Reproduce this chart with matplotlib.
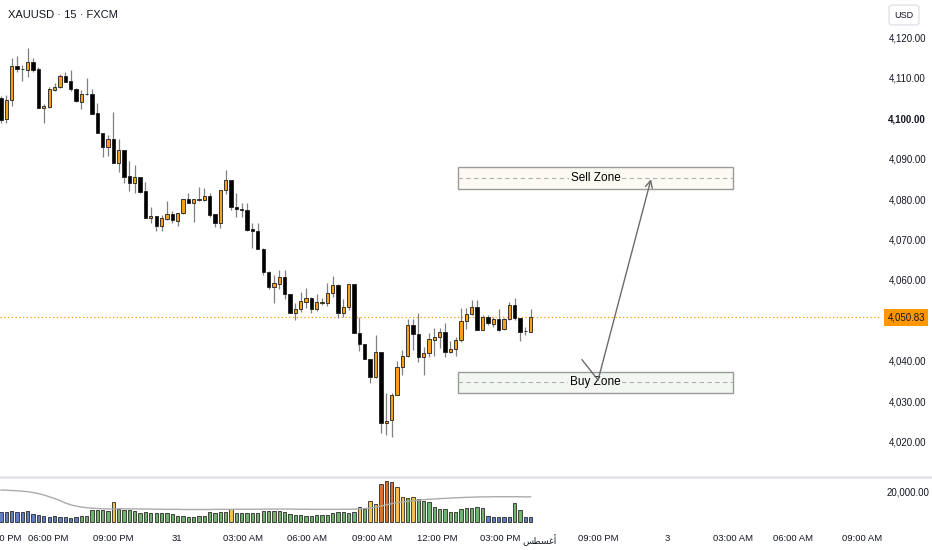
import matplotlib
matplotlib.use("Agg")
import matplotlib.pyplot as plt
import matplotlib.transforms as mtransforms
from matplotlib.lines import Line2D
from matplotlib.patches import Rectangle

# XAUUSD 15m candles
opens = [4104.9, 4099.8, 4104.4, 4112.8, 4112.1, 4111.9, 4113.8, 4112.1, 4102.5, 4102.7,
         4106.9, 4107.7, 4110.4, 4109.1, 4107.2, 4104.0, 4105.9, 4105.9, 4101.2, 4096.3,
         4092.8, 4094.8, 4088.9, 4092.1, 4085.7, 4084.0, 4085.4, 4082.0, 4075.3, 4075.8,
         4073.3, 4075.1, 4076.3, 4074.6, 4076.5, 4080.0, 4079.0, 4079.7, 4079.8, 4080.7,
         4076.3, 4074.1, 4082.2, 4084.7, 4078.0, 4077.5, 4077.3, 4072.6, 4072.1, 4067.7,
         4062.0, 4058.3, 4059.0, 4060.7, 4056.5, 4051.9, 4052.8, 4054.6, 4055.6, 4052.8,
         4054.3, 4054.3, 4056.8, 4058.8, 4051.9, 4053.3, 4059.0, 4046.9, 4044.2, 4040.5,
         4036.1, 4042.2, 4024.7, 4025.4, 4031.6, 4038.5, 4041.2, 4048.9, 4046.7, 4041.0,
         4042.0, 4045.2, 4045.9, 4047.2, 4042.2, 4043.0, 4045.2, 4049.9, 4051.6, 4053.3,
         4047.7, 4050.9, 4049.1, 4050.4, 4047.9, 4050.4, 4053.8, 4050.6, 4047.3, 4047.2]
highs = [4105.4, 4105.7, 4114.8, 4115.3, 4113.1, 4117.3, 4114.8, 4112.6, 4103.5, 4107.7,
         4108.6, 4110.9, 4111.4, 4111.9, 4107.3, 4106.9, 4109.9, 4107.2, 4103.7, 4096.4,
         4095.8, 4101.5, 4094.8, 4092.2, 4089.4, 4088.4, 4085.5, 4084.2, 4078.0, 4075.9,
         4076.1, 4079.5, 4077.0, 4076.6, 4080.1, 4081.5, 4080.1, 4083.0, 4082.7, 4081.5,
         4076.4, 4082.3, 4087.2, 4084.8, 4081.5, 4079.0, 4079.0, 4074.1, 4074.1, 4067.8,
         4062.1, 4061.2, 4062.5, 4062.5, 4056.6, 4054.3, 4057.0, 4058.0, 4055.7, 4056.5,
         4055.6, 4059.3, 4061.0, 4058.9, 4055.3, 4059.1, 4059.1, 4050.9, 4044.3, 4040.6,
         4046.4, 4042.3, 4032.1, 4032.1, 4040.0, 4042.7, 4050.4, 4050.4, 4051.9, 4043.5,
         4046.9, 4048.2, 4048.2, 4049.4, 4045.0, 4045.9, 4053.1, 4053.1, 4055.1, 4055.1,
         4051.4, 4051.4, 4050.9, 4052.8, 4050.5, 4054.6, 4055.6, 4050.7, 4048.4, 4052.8]
lows = [4098.8, 4098.8, 4103.0, 4111.4, 4109.1, 4110.1, 4111.4, 4102.5, 4098.8, 4102.5,
        4106.7, 4107.4, 4108.8, 4106.7, 4104.0, 4102.2, 4105.7, 4100.9, 4096.2, 4090.4,
        4090.6, 4088.8, 4086.7, 4084.0, 4082.0, 4081.5, 4081.5, 4075.2, 4074.1, 4072.1,
        4072.1, 4074.8, 4074.1, 4073.3, 4076.4, 4078.9, 4074.3, 4079.6, 4079.5, 4075.6,
        4073.1, 4072.8, 4081.2, 4077.3, 4075.6, 4075.6, 4072.2, 4067.9, 4067.6, 4061.2,
        4057.8, 4054.3, 4057.8, 4055.3, 4051.8, 4050.1, 4052.1, 4053.1, 4051.9, 4052.3,
        4053.8, 4053.6, 4055.8, 4050.6, 4050.9, 4052.6, 4046.8, 4042.5, 4040.4, 4034.6,
        4035.8, 4022.2, 4021.7, 4021.2, 4031.5, 4036.5, 4041.1, 4042.7, 4039.8, 4036.5,
        4041.0, 4041.2, 4043.2, 4041.0, 4042.0, 4041.2, 4044.7, 4047.9, 4051.4, 4047.6,
        4047.6, 4048.9, 4048.4, 4047.4, 4047.7, 4050.1, 4050.1, 4045.0, 4046.4, 4047.1]
closes = [4099.5, 4104.4, 4112.8, 4112.1, 4112.0, 4113.8, 4111.9, 4102.5, 4103.0, 4107.2,
          4107.7, 4110.4, 4108.9, 4107.2, 4104.2, 4105.9, 4106.0, 4101.0, 4096.3, 4092.8,
          4094.8, 4088.9, 4092.1, 4085.4, 4084.0, 4085.4, 4081.7, 4075.3, 4075.8, 4073.3,
          4075.3, 4076.3, 4074.8, 4076.5, 4080.0, 4079.0, 4080.0, 4079.9, 4080.7, 4076.1,
          4074.1, 4082.2, 4084.7, 4078.0, 4077.5, 4077.2, 4072.3, 4072.1, 4067.7, 4062.0,
          4058.3, 4059.3, 4060.7, 4056.5, 4051.9, 4052.8, 4054.8, 4055.6, 4052.8, 4054.6,
          4054.4, 4056.8, 4058.8, 4051.9, 4053.3, 4059.0, 4046.9, 4044.2, 4040.5, 4036.1,
          4042.2, 4024.7, 4025.2, 4031.6, 4038.5, 4041.2, 4048.9, 4046.7, 4041.0, 4042.0,
          4045.4, 4045.9, 4047.2, 4042.2, 4043.0, 4045.2, 4049.9, 4051.6, 4053.3, 4047.7,
          4050.9, 4049.4, 4050.4, 4047.7, 4050.4, 4053.8, 4050.6, 4047.2, 4047.5, 4050.83]

volumes = [6700, 6700, 7400, 6700, 6700, 7400, 5400, 4700, 4000, 3400,
           4000, 3400, 3400, 2700, 3400, 4000, 4000, 8100, 8100, 8100,
           7400, 13500, 8700, 8100, 8100, 7400, 6100, 6700, 6100, 6100,
           6100, 6100, 5400, 4000, 4000, 3400, 3400, 4000, 4000, 6700,
           6100, 6700, 6700, 8700, 6100, 6100, 6100, 6100, 6100, 7400,
           7400, 7400, 7400, 6700, 5400, 4700, 4700, 4000, 4000, 4700,
           4700, 4700, 6100, 6700, 6700, 6100, 6700, 10100, 8700, 14100,
           12100, 25600, 27600, 26900, 23600, 16800, 16200, 16800, 15500, 14100,
           13500, 10100, 8700, 8700, 6700, 6700, 8700, 9400, 9400, 10100,
           9400, 4000, 3400, 3400, 3400, 3400, 12800, 8100, 3400, 3400]
# b = blue, g = green, y = yellow, o = dark orange
vol_kind = ("bbbbbbbbbbbbbbb" "gggggg" "y" "ggggggggggggggggggggg" "y"
            "ggggggggggggggggggggggg" "y" "g" "yy" "ooo" "yy" "g" "y"
            "ggggggggggggg" "bbbbb" "gg" "bb")
vol_ma = [21300, 21200, 21000, 20800, 20500, 20200, 19600, 18900, 18000, 16800,
          15600, 14300, 12600, 11400, 10500, 9900, 9400, 9100, 8900, 8700,
          8600, 8600, 8700, 8700, 8600, 8600, 8600, 8500, 8500, 8400,
          8400, 8300, 8300, 8300, 8200, 8200, 8200, 8200, 8200, 8200,
          8300, 8300, 8300, 8300, 8400, 8400, 8400, 8400, 8400, 8400,
          8500, 8500, 8500, 8500, 8500, 8400, 8400, 8400, 8300, 8300,
          8300, 8300, 8300, 8300, 8400, 8400, 8400, 8600, 8800, 9200,
          9700, 10500, 11300, 12100, 12800, 13300, 13700, 14100, 14500, 14800,
          15100, 15300, 15500, 15700, 15900, 16100, 16200, 16400, 16500, 16600,
          16700, 16700, 16800, 16800, 16800, 16800, 16800, 16800, 16700, 16700]

# 4,050 is hidden behind the last-price label
price_ticks = [4020, 4030, 4040, 4060, 4070, 4080, 4090, 4100, 4110, 4120]
time_pos = [0.0, 8.8, 20.9, 32.9, 45.2, 57.2, 69.3, 81.5, 93.3, 100.6, 111.6, 124.5, 136.8, 148.0, 160.9]
# month label in visual order (presentation forms, matplotlib has no bidi shaping)
month_label = "\ufeb2\ufec4\ufeb4\ufecf\ufe83"
time_labels = ["03:00 PM", "06:00 PM", "09:00 PM", "31", "03:00 AM", "06:00 AM", "09:00 AM",
               "12:00 PM", "03:00 PM", month_label, "09:00 PM", "3", "03:00 AM", "06:00 AM", "09:00 AM"]
last_price = 4050.83

zone_x = [85.4, 136.8]
sell_zone = [4082.5, 4087.9]
buy_zone = [4032.1, 4037.3]
path_x = [108.6, 111.6, 121.5]
path_y = [4040.3, 4035.3, 4084.9]

plt.rcParams["font.family"] = ["Liberation Sans", "DejaVu Sans"]

UP = "#F6A01A"
DOWN = "#000000"
TXT = "#131722"
vol_colors = {"b": "#5F80C4", "g": "#72B46E", "y": "#F5C251", "o": "#D9702C"}

W, H = 932, 550
fig = plt.figure(figsize=(W / 100, H / 100), dpi=100)
ax = fig.add_axes([0, 74 / H, 880 / W, 476 / H])
axv = fig.add_axes([0, 23 / H, 880 / W, 49 / H], sharex=ax)

x = list(range(len(closes)))
body_col = [UP if c > o else DOWN for o, c in zip(opens, closes)]
body_bot = [min(o, c) for o, c in zip(opens, closes)]
body_h = [max(abs(c - o), 0.15) for o, c in zip(opens, closes)]

ax.vlines(x, lows, highs, color="#808080", lw=0.9, zorder=2)
ax.bar(x, body_h, bottom=body_bot, width=0.62, color=body_col, edgecolor="#1e1e1e",
       linewidth=0.6, zorder=3)

ax.axhline(last_price, color="#FF9800", ls=(0, (1, 2)), lw=0.9, zorder=1)

# zones
for (lo, hi), fc, label in [(sell_zone, "#FDFAF3", "Sell Zone"), (buy_zone, "#F2F7F2", "Buy Zone")]:
    ax.add_patch(Rectangle((zone_x[0], lo), zone_x[1] - zone_x[0], hi - lo, facecolor=fc,
                           edgecolor="#9a9a9a", lw=1.0, zorder=1))
    mid = (lo + hi) / 2
    ax.plot(zone_x, [mid, mid], color="#b0b0b0", ls=(0, (4, 3)), lw=0.8, zorder=1)
    ax.text(sum(zone_x) / 2, mid, label, ha="center", va="center", fontsize=8.5,
            color="#000000", zorder=4,
            bbox=dict(boxstyle="square,pad=0.15", fc=fc, ec="none"))

ax.plot(path_x[:2], path_y[:2], color="#6b6b6b", lw=1.0, zorder=5)
ax.annotate("", xy=(path_x[2], path_y[2]), xytext=(path_x[1], path_y[1]),
            arrowprops=dict(arrowstyle="->,head_length=0.5,head_width=0.25", color="#6b6b6b",
                            lw=1.0, shrinkA=0, shrinkB=0), zorder=5)

ax.set_xlim(-0.19, 164.3)
ax.set_ylim(4011.6, 4129.14)
ax.yaxis.tick_right()
ax.set_yticks(price_ticks)
ax.set_yticklabels([f"{p:,.2f}" for p in price_ticks])
ax.tick_params(axis="y", length=0, pad=6, labelsize=7, labelcolor=TXT)
for lab in ax.get_yticklabels():
    if lab.get_text() == "4,100.00":
        lab.set_fontweight("bold")
ax.tick_params(axis="x", bottom=False, labelbottom=False)
for s in ax.spines.values():
    s.set_visible(False)

ax.text(1.0085, last_price, f"{last_price:,.2f}",
        transform=mtransforms.blended_transform_factory(ax.transAxes, ax.transData),
        ha="left", va="center", fontsize=7, color=TXT,
        bbox=dict(boxstyle="square,pad=0.35", fc="#FF9800", ec="none"), clip_on=False)

# volume pane
axv.bar(x, volumes, width=0.62, color=[vol_colors[k] for k in vol_kind], edgecolor="#2a2a2a", linewidth=0.6)
axv.plot(x, vol_ma, color="#ababab", lw=1.0)
axv.set_ylim(-3570, 29400)
axv.yaxis.tick_right()
axv.set_yticks([20000])
axv.set_yticklabels(["20,000.00"])
axv.tick_params(axis="y", length=0, pad=5, labelsize=7, labelcolor=TXT)
axv.set_xticks(time_pos)
axv.set_xticklabels(time_labels)
axv.tick_params(axis="x", length=0, pad=5, labelsize=6.8, labelcolor=TXT)
for lab in axv.get_xticklabels():
    if lab.get_text() == month_label:
        lab.set_family(["DejaVu Sans"])
        lab.set_fontsize(6.5)
for s in axv.spines.values():
    s.set_visible(False)

fig.add_artist(Line2D([0, 1], [1 - 477 / H] * 2, color="#E0E3EB", lw=1.8))
fig.text(8 / W, 1 - 15 / H, "XAUUSD · 15 · FXCM", fontsize=8, va="center", color=TXT)
fig.text(904 / W, 1 - 15 / H, "USD", fontsize=6.5, ha="center", va="center", color=TXT,
         bbox=dict(boxstyle="round,pad=0.6,rounding_size=0.3", fc="white", ec="#E0E3EB", lw=1))

fig.savefig("out.png", dpi=100)
